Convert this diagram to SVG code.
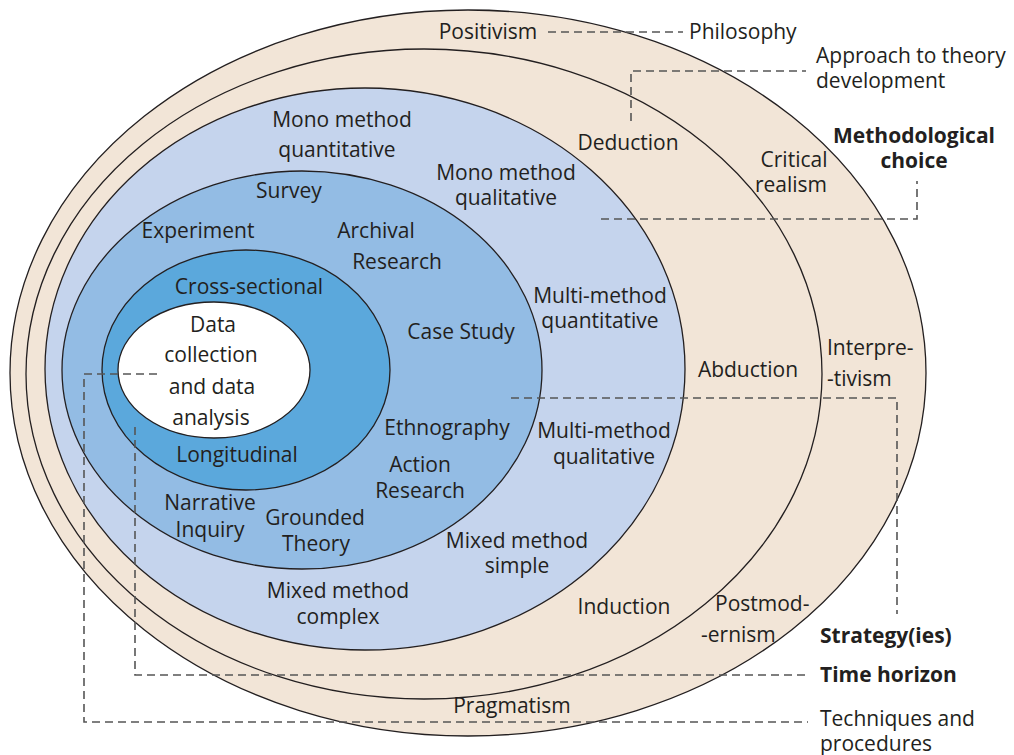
<svg xmlns="http://www.w3.org/2000/svg" width="1014" height="755" viewBox="0 0 1014 755">
<style>
.r{stroke:#231f20;stroke-width:1.3}
.t{font-family:"Open Sans","Noto Sans",sans-serif;font-size:21px;fill:#231f20}
.c{text-anchor:middle}
.b{font-weight:bold}
.d{fill:none;stroke:#555;stroke-width:1.6;stroke-dasharray:8,5}
</style>
<rect width="1014" height="755" fill="#fff"/>
<g id="rings">
<ellipse id="philosophy" class="r" cx="468" cy="373" rx="458" ry="363" fill="#f2e5d7"/>
<ellipse id="approach" class="r" cx="424" cy="374" rx="398" ry="325" fill="#f2e5d7"/>
<ellipse id="choice" class="r" cx="365" cy="369" rx="320" ry="281" fill="#c5d4ed"/>
<ellipse id="strategies" class="r" cx="302" cy="370" rx="240" ry="199" fill="#93bce4"/>
<ellipse id="time" class="r" cx="246" cy="370" rx="144" ry="120" fill="#5ba8dc"/>
<ellipse id="core" class="r" cx="214" cy="370" rx="96" ry="68" fill="#ffffff"/>
</g>
<g id="connectors">
<path class="d" d="M548 32H683"/>
<path class="d" d="M631 121V71H806"/>
<path class="d" d="M601 219H917V181"/>
<path class="d" d="M511 398H897V614"/>
<path class="d" d="M135 427V675H808"/>
<path class="d" d="M157 374H84V722H808"/>
</g>
<g id="labels-philosophy" class="t">
<text class="c" x="488" y="39">Positivism</text>
<text class="c" x="794" y="167">Critical</text>
<text class="c" x="791" y="192">realism</text>
<text x="827" y="355">Interpre-</text>
<text x="827" y="386">-tivism</text>
<text x="715" y="611">Postmod-</text>
<text x="701" y="642">-ernism</text>
<text class="c" x="512" y="713">Pragmatism</text>
</g>
<g id="labels-approach" class="t">
<text class="c" x="628" y="150">Deduction</text>
<text class="c" x="748" y="377">Abduction</text>
<text class="c" x="624" y="614">Induction</text>
</g>
<g id="labels-choice" class="t">
<text class="c" x="342" y="127">Mono method</text>
<text class="c" x="337" y="157">quantitative</text>
<text class="c" x="506" y="180">Mono method</text>
<text class="c" x="506" y="205">qualitative</text>
<text class="c" x="600" y="303">Multi-method</text>
<text class="c" x="600" y="328">quantitative</text>
<text class="c" x="604" y="438">Multi-method</text>
<text class="c" x="604" y="464">qualitative</text>
<text class="c" x="517" y="548">Mixed method</text>
<text class="c" x="517" y="573">simple</text>
<text class="c" x="338" y="598">Mixed method</text>
<text class="c" x="338" y="624">complex</text>
</g>
<g id="labels-strategies" class="t">
<text class="c" x="289" y="198">Survey</text>
<text class="c" x="198" y="238">Experiment</text>
<text class="c" x="376" y="238">Archival</text>
<text class="c" x="397" y="269">Research</text>
<text class="c" x="461" y="339">Case Study</text>
<text class="c" x="447" y="435">Ethnography</text>
<text class="c" x="420" y="472">Action</text>
<text class="c" x="420" y="498">Research</text>
<text class="c" x="210" y="510">Narrative</text>
<text class="c" x="210" y="537">Inquiry</text>
<text class="c" x="315" y="525">Grounded</text>
<text class="c" x="316" y="551">Theory</text>
</g>
<g id="labels-time" class="t">
<text class="c" x="249" y="294">Cross-sectional</text>
<text class="c" x="237" y="462">Longitudinal</text>
</g>
<g id="labels-core" class="t">
<text class="c" x="213" y="332">Data</text>
<text class="c" x="211" y="362">collection</text>
<text class="c" x="212" y="394">and data</text>
<text class="c" x="211" y="425">analysis</text>
</g>
<g id="legend" class="t">
<text x="689" y="39">Philosophy</text>
<text x="816" y="63">Approach to theory</text>
<text x="816" y="88">development</text>
<text class="c b" x="914" y="143">Methodological</text>
<text class="c b" x="914" y="168">choice</text>
<text class="b" x="820" y="643">Strategy(ies)</text>
<text class="b" x="820" y="682">Time horizon</text>
<text x="820" y="726">Techniques and</text>
<text x="820" y="751">procedures</text>
</g>
</svg>
